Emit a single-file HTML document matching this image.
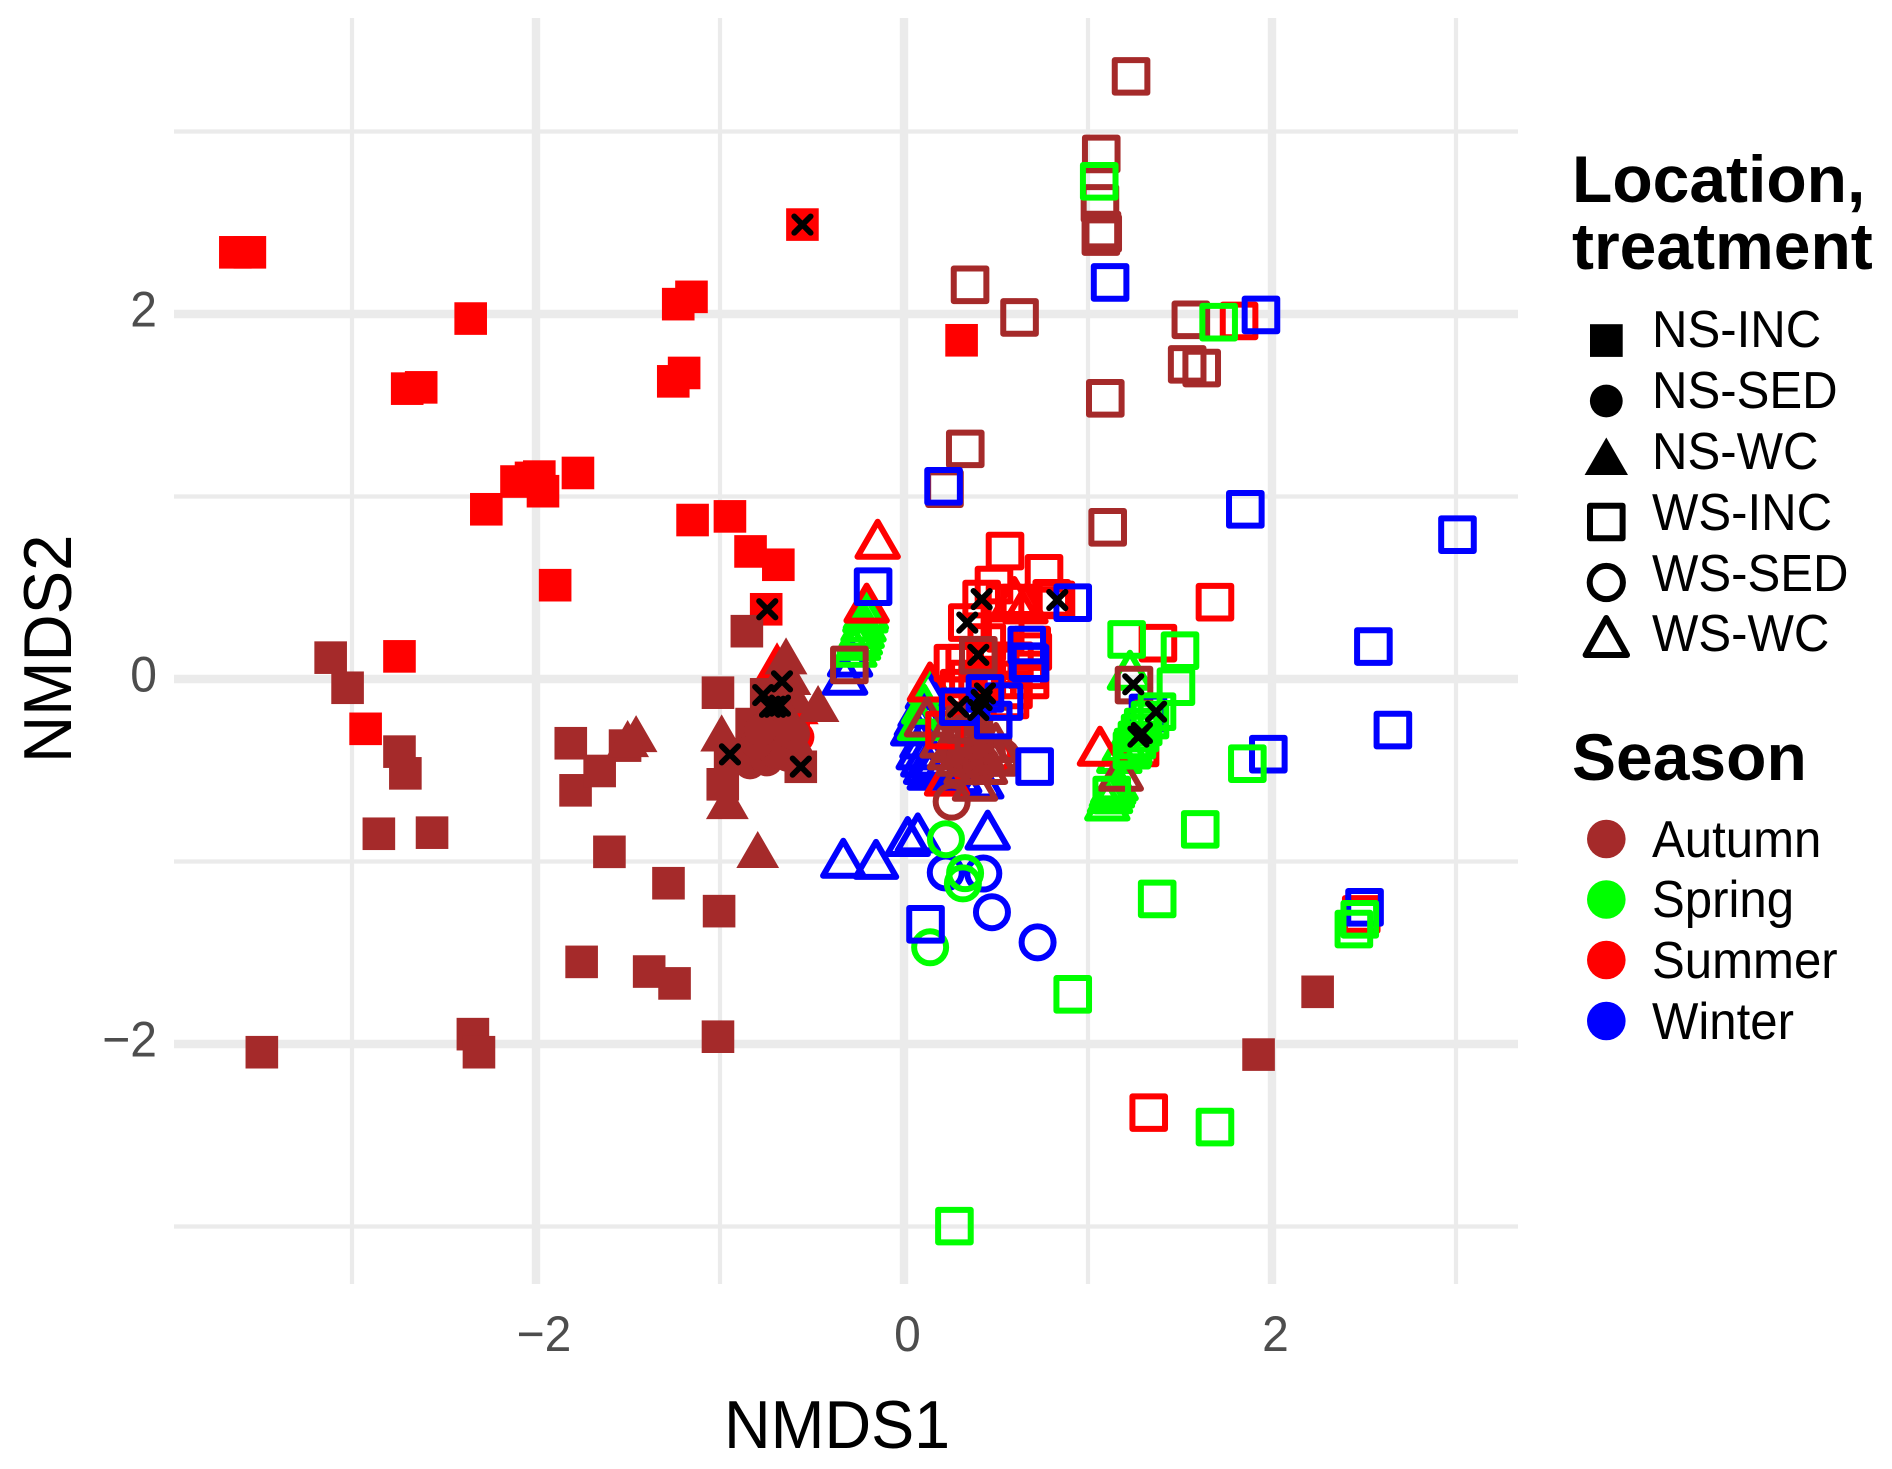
<!DOCTYPE html>
<html lang="en">
<head>
<meta charset="utf-8">
<title>NMDS ordination by location, treatment and season</title>
<style>
html,body{margin:0;padding:0;background:#fff;}
svg{display:block;font-family:"Liberation Sans",Arial,sans-serif;}
</style>
</head>
<body>
<svg id="chart" width="1892" height="1469" viewBox="0 0 1892 1469" xmlns="http://www.w3.org/2000/svg">
<rect width="1892" height="1469" fill="#fff"/>
<g id="grid"></g>
<g id="marks"></g>
<g id="ticks" fill="#4d4d4d" font-size="50"></g>

<text transform="translate(724,1448) scale(0.95,1)" font-size="68" fill="#000">NMDS1</text>
<text transform="translate(71,763) rotate(-90) scale(0.96,1)" font-size="68" fill="#000">NMDS2</text>

<g>
  <text x="1572" y="202" font-size="66" font-weight="bold" fill="#000">Location,</text>
  <text x="1572" y="269" font-size="66" font-weight="bold" fill="#000">treatment</text>

  <rect x="1590" y="324.2" width="32.7" height="32.7" fill="#000"/>
  <circle cx="1606.3" cy="401" r="16.4" fill="#000"/>
  <path d="M1606.3 437.5L1628 475L1584.6 475Z" fill="#000"/>
  <rect x="1590" y="505.7" width="32.6" height="32.6" fill="none" stroke="#000" stroke-width="6" stroke-linejoin="round"/>
  <circle cx="1606.3" cy="582.5" r="16.6" fill="none" stroke="#000" stroke-width="6"/>
  <path d="M1606.3 618L1627 655L1585.6 655Z" fill="none" stroke="#000" stroke-width="6" stroke-linejoin="round"/>

  <text transform="translate(1652,347) scale(0.945,1)" font-size="52" fill="#000">NS-INC</text>
  <text transform="translate(1652,408) scale(0.945,1)" font-size="52" fill="#000">NS-SED</text>
  <text transform="translate(1652,469) scale(0.945,1)" font-size="52" fill="#000">NS-WC</text>
  <text transform="translate(1652,530) scale(0.945,1)" font-size="52" fill="#000">WS-INC</text>
  <text transform="translate(1652,591) scale(0.945,1)" font-size="52" fill="#000">WS-SED</text>
  <text transform="translate(1652,651) scale(0.945,1)" font-size="52" fill="#000">WS-WC</text>
</g>

<g>
  <text x="1572" y="780" font-size="66" font-weight="bold" fill="#000">Season</text>
  <circle cx="1606.3" cy="839" r="19.3" fill="#a52a2a"/>
  <circle cx="1606.3" cy="899.5" r="19.3" fill="#00ff00"/>
  <circle cx="1606.3" cy="960" r="19.3" fill="#ff0000"/>
  <circle cx="1606.3" cy="1021" r="19.3" fill="#0000ff"/>
  <text transform="translate(1652,857) scale(0.945,1)" font-size="52" fill="#000">Autumn</text>
  <text transform="translate(1652,917) scale(0.945,1)" font-size="52" fill="#000">Spring</text>
  <text transform="translate(1652,978) scale(0.945,1)" font-size="52" fill="#000">Summer</text>
  <text transform="translate(1652,1039) scale(0.945,1)" font-size="52" fill="#000">Winter</text>
</g>
</svg>

<script>
// Axis ticks (NMDS units)
const majorTicks = [-2, 0, 2];
const minorTicks = [-3, -1, 1, 3];

// Series values as [NMDS1, NMDS2] pairs
const nsIncSummer = [[-3.634,2.338],[-3.555,2.338],[-2.355,1.975],[-2.70,1.591],[-2.624,1.598],[-1.227,2.054],[-1.155,2.094],[-1.254,1.631],[-1.195,1.677],[-0.552,2.49],[0.313,1.856],[-2.27,0.93],[-2.106,1.082],[-2.027,1.102],[-1.982,1.109],[-1.962,1.029],[-1.772,1.129],[-1.149,0.871],[-0.946,0.891],[-0.834,0.699],[-0.683,0.626],[-1.896,0.514],[-0.749,0.382],[-2.742,0.124],[-2.926,-0.273]];
const nsIncAutumn = [[-3.116,0.117],[-3.024,-0.048],[-2.742,-0.398],[-2.71,-0.517],[-2.854,-0.848],[-2.565,-0.842],[-1.811,-0.352],[-1.785,-0.61],[-1.654,-0.504],[-1.516,-0.365],[-1.601,-0.947],[-1.28,-1.119],[-1.005,-1.272],[-1.752,-1.55],[-1.385,-1.603],[-1.247,-1.668],[-1.011,-1.96],[-2.343,-1.946],[-2.31,-2.045],[-3.49,-2.045],[1.927,-2.058],[2.248,-1.714],[-1.011,-0.075],[-0.854,0.262],[-0.985,-0.577],[-0.945,-0.412],[-0.561,-0.481],[-0.749,-0.084],[-0.828,-0.247]];
const nsWcSummer = [[-0.69,0.066],[-0.58,-0.18]];
const nsSedSummer = [[-0.576,-0.318],[-0.60,-0.25]];
const nsWcAutumn = [[-0.795,-0.968],[-0.641,0.093],[-0.467,-0.168],[-0.991,-0.329],[-1.456,-0.333],[-1.502,-0.36],[-0.96,-0.70],[-0.62,-0.02],[-0.60,-0.12],[-0.65,-0.25],[-0.70,-0.35],[-0.60,-0.35],[-0.72,-0.2],[-0.72,-0.10],[-0.78,-0.28],[-0.68,-0.15]];
const nsSedAutumn = [[-0.837,-0.46],[-0.745,-0.444],[-0.70,-0.40],[-0.65,-0.35],[-0.63,-0.42],[-0.72,-0.30],[-0.60,-0.30],[-0.80,-0.35],[-0.72,-0.22],[-0.66,-0.26],[-0.78,-0.28]];

const wsWcWinter = [[-0.293,0.088],[-0.32,-0.011],[0.13,-0.09],[0.09,-0.19],[0.07,-0.24],[0.05,-0.289],[0.105,-0.46],[0.14,-0.532],[0.12,-0.50],[0.42,-0.58],[0.3,-0.55],[0.455,-0.86],[0.02,-0.895],[0.075,-0.875],[-0.33,-1.014],[-0.152,-1.02],[0.08,-0.42],[0.16,-0.47],[0.22,-0.5],[0.1,-0.36]];
const wsWcSpring = [[-0.207,0.345],[-0.22,0.28],[-0.23,0.245],[-0.24,0.208],[-0.27,0.142],[-0.21,0.33],[-0.25,0.18],[1.105,-0.70],[1.137,-0.61],[1.12,-0.66],[1.13,-0.63],[1.15,-0.59],[1.228,0.016],[1.2,-0.38],[1.17,-0.44],[0.087,-0.26],[0.15,-0.06],[0.11,-0.17]];
const wsWcSummer = [[-0.203,0.384],[-0.143,0.734],[0.141,-0.048],[0.234,-0.564],[1.065,-0.40],[0.6,0.42],[0.66,0.38]];
const wsWcAutumn = [[0.125,-0.24],[0.3,-0.455],[0.49,-0.455],[0.4,-0.455],[0.21,-0.356],[0.386,-0.592],[0.35,-0.35],[0.40,-0.30],[0.30,-0.30],[0.38,-0.40],[0.44,-0.38],[1.178,-0.537],[0.28,-0.38],[0.42,-0.42],[0.5,-0.38],[0.34,-0.5],[0.44,-0.5],[0.25,-0.42],[0.37,-0.45]];
const wsSedSummer = [[0.49,-0.42]];
const wsSedAutumn = [[0.259,-0.672],[0.531,-0.426],[0.386,-0.48],[0.45,-0.40],[0.33,-0.44],[0.36,-0.38],[0.30,-0.42],[0.42,-0.46],[0.38,-0.34]];
const wsSedWinter = [[0.227,-1.06],[0.431,-1.066],[0.478,-1.278],[0.726,-1.443]];
const wsSedSpring = [[0.228,-0.878],[0.332,-1.064],[0.32,-1.12],[0.142,-1.47]];

const wsIncSummer = [[0.549,0.701],[0.761,0.579],[0.489,0.515],[0.422,0.438],[0.344,0.309],[0.803,0.442],[0.826,0.433],[0.63,0.416],[0.549,0.416],[0.404,0.104],[0.266,0.087],[0.33,0.087],[0.694,0.186],[0.70,0.15],[1.69,0.421],[1.38,0.196],[1.33,-2.376],[0.22,-0.28],[0.595,-0.06],[0.685,-0.005],[0.667,0.05],[0.504,-0.005],[0.576,-0.115],[2.485,-1.29],[1.821,1.962],[1.283,-0.378],[0.45,0.2],[0.5,0.1],[0.55,0.25],[0.6,0.1],[0.45,0.0],[0.4,-0.02],[0.35,0.0],[0.3,-0.05]];
const wsIncAutumn = [[1.234,3.302],[1.072,2.877],[1.065,2.606],[1.08,2.442],[1.07,2.424],[1.076,2.46],[0.359,2.16],[0.628,1.981],[1.559,1.968],[1.539,1.724],[1.618,1.704],[1.094,1.538],[0.333,1.261],[0.22,1.043],[1.107,0.831],[-0.297,0.077],[1.25,-0.033],[0.404,0.13],[0.483,-0.247],[0.38,-0.3],[0.33,-0.25]];
const wsIncWinter = [[1.12,2.173],[1.94,1.995],[0.215,1.056],[1.855,0.93],[3.008,0.791],[-0.168,0.506],[0.917,0.418],[2.551,0.178],[2.657,-0.28],[1.98,-0.412],[0.71,-0.48],[0.117,-1.344],[2.503,-1.251],[0.295,-0.152],[0.44,-0.079],[0.543,-0.124],[0.485,-0.225],[0.685,0.087],[0.667,0.186],[0.674,0.095],[1.326,-0.186]];
const wsIncSpring = [[1.061,2.727],[1.71,1.955],[1.21,0.217],[1.5,0.155],[1.478,-0.042],[1.375,-0.179],[1.866,-0.464],[1.61,-0.824],[1.376,-1.205],[0.917,-1.728],[1.69,-2.455],[0.274,-2.998],[2.445,-1.37],[2.477,-1.317],[1.337,-0.225],[1.3,-0.263],[1.283,-0.296],[1.266,-0.334],[1.245,-0.373],[1.239,-0.39],[1.129,-0.636]];

// Samples flagged with a black cross
const crossPoints = [[-0.552,2.49],[-0.743,0.382],[-0.663,-0.013],[-0.765,-0.088],[-0.728,-0.152],[-0.701,-0.152],[-0.674,-0.146],[-0.946,-0.413],[-0.561,-0.48],[0.422,0.438],[0.344,0.309],[0.404,0.132],[0.833,0.433],[0.44,-0.079],[0.422,-0.115],[0.295,-0.152],[0.404,-0.17],[1.246,-0.029],[1.37,-0.179],[1.274,-0.316],[1.293,-0.296]];

// Axis functions
function xScale(v) { return 904 + 184 * v; }
function yScale(v) { return 679 - 182.5 * v; }

const NS = 'http://www.w3.org/2000/svg';
const gridGroup = document.getElementById('grid');
const marksGroup = document.getElementById('marks');
const ticksGroup = document.getElementById('ticks');

function drawGridLine(x1, y1, x2, y2, width) {
  const el = document.createElementNS(NS, 'line');
  el.setAttribute('x1', x1);
  el.setAttribute('y1', y1);
  el.setAttribute('x2', x2);
  el.setAttribute('y2', y2);
  el.setAttribute('stroke', '#ebebeb');
  el.setAttribute('stroke-width', width);
  
  
  gridGroup.appendChild(el);
}
minorTicks.forEach(function (t) {
  drawGridLine(174, yScale(t), 1518, yScale(t), 4.2);
  drawGridLine(xScale(t), 18, xScale(t), 1284, 4.2);
});
majorTicks.forEach(function (t) {
  drawGridLine(174, yScale(t), 1518, yScale(t), 8.4);
  drawGridLine(xScale(t), 18, xScale(t), 1284, 8.4);
});

function tickText(t) { return t < 0 ? '\u2212' + Math.abs(t) : String(t); }
majorTicks.forEach(function (t) {
  const xt = document.createElementNS(NS, 'text');
  xt.textContent = tickText(t);
  xt.setAttribute('text-anchor', 'middle');
  xt.setAttribute('transform', 'translate(' + (xScale(t) + (t < 0 ? 8 : 3.5)) + ',1351) scale(0.96,1)');
  
  
  ticksGroup.appendChild(xt);
  const yt = document.createElementNS(NS, 'text');
  yt.textContent = tickText(t);
  yt.setAttribute('text-anchor', 'end');
  yt.setAttribute('transform', 'translate(157,' + (yScale(t) + 12.5) + ') scale(0.96,1)');
  
  
  ticksGroup.appendChild(yt);
});

const BROWN = '#a52a2a', GREEN = '#00ff00', RED = '#ff0000', BLUE = '#0000ff';
const OPEN_STROKE = 6;

function drawMark(shape, color, x, y, name) {
  let el;
  const px = xScale(x), py = yScale(y);
  if (shape === 'fsq') {
    el = document.createElementNS(NS, 'rect');
    el.setAttribute('x', px - 16.3);
    el.setAttribute('y', py - 16.3);
    el.setAttribute('width', 32.6);
    el.setAttribute('height', 32.6);
    el.setAttribute('fill', color);
  } else if (shape === 'fci') {
    el = document.createElementNS(NS, 'circle');
    el.setAttribute('cx', px);
    el.setAttribute('cy', py);
    el.setAttribute('r', 16.4);
    el.setAttribute('fill', color);
  } else if (shape === 'ftr') {
    el = document.createElementNS(NS, 'path');
    el.setAttribute('d', 'M' + px + ' ' + (py - 24.7) + 'L' + (px + 21.4) + ' ' + (py + 12.4) + 'L' + (px - 21.4) + ' ' + (py + 12.4) + 'Z');
    el.setAttribute('fill', color);
  } else if (shape === 'osq') {
    el = document.createElementNS(NS, 'rect');
    el.setAttribute('x', px - 16.3);
    el.setAttribute('y', py - 16.3);
    el.setAttribute('width', 32.6);
    el.setAttribute('height', 32.6);
    el.setAttribute('fill', 'none');
    el.setAttribute('stroke', color);
    el.setAttribute('stroke-width', OPEN_STROKE);
    el.setAttribute('stroke-linejoin', 'round');
  } else if (shape === 'oci') {
    el = document.createElementNS(NS, 'circle');
    el.setAttribute('cx', px);
    el.setAttribute('cy', py);
    el.setAttribute('r', 16);
    el.setAttribute('fill', 'none');
    el.setAttribute('stroke', color);
    el.setAttribute('stroke-width', OPEN_STROKE);
  } else if (shape === 'otr') {
    el = document.createElementNS(NS, 'path');
    el.setAttribute('d', 'M' + px + ' ' + (py - 23.3) + 'L' + (px + 20.2) + ' ' + (py + 11.7) + 'L' + (px - 20.2) + ' ' + (py + 11.7) + 'Z');
    el.setAttribute('fill', 'none');
    el.setAttribute('stroke', color);
    el.setAttribute('stroke-width', OPEN_STROKE);
    el.setAttribute('stroke-linejoin', 'round');
  } else {
    el = document.createElementNS(NS, 'path');
    el.setAttribute('d', 'M' + (px - 8.2) + ' ' + (py - 8.2) + 'L' + (px + 8.2) + ' ' + (py + 8.2) + 'M' + (px + 8.2) + ' ' + (py - 8.2) + 'L' + (px - 8.2) + ' ' + (py + 8.2));
    el.setAttribute('fill', 'none');
    el.setAttribute('stroke', color);
    el.setAttribute('stroke-width', 5.8);
    el.setAttribute('stroke-linecap', 'round');
  }
  
  
  marksGroup.appendChild(el);
}

function drawSeries(points, shape, color, name) {
  points.forEach(function (p) { drawMark(shape, color, p[0], p[1], name); });
}

drawSeries(nsWcSummer, 'ftr', RED, 'point-ns-wc-summer');
drawSeries(nsSedSummer, 'fci', RED, 'point-ns-sed-summer');
drawSeries(nsIncSummer, 'fsq', RED, 'point-ns-inc-summer');
drawSeries(nsIncAutumn, 'fsq', BROWN, 'point-ns-inc-autumn');
drawSeries(nsWcAutumn, 'ftr', BROWN, 'point-ns-wc-autumn');
drawSeries(nsSedAutumn, 'fci', BROWN, 'point-ns-sed-autumn');
drawSeries(wsWcWinter, 'otr', BLUE, 'point-ws-wc-winter');
drawSeries(wsWcSpring, 'otr', GREEN, 'point-ws-wc-spring');
drawSeries(wsWcSummer, 'otr', RED, 'point-ws-wc-summer');
drawSeries(wsSedSummer, 'oci', RED, 'point-ws-sed-summer');
drawSeries(wsSedWinter, 'oci', BLUE, 'point-ws-sed-winter');
drawSeries(wsSedSpring, 'oci', GREEN, 'point-ws-sed-spring');
drawSeries(wsWcAutumn, 'otr', BROWN, 'point-ws-wc-autumn');
drawSeries(wsSedAutumn, 'oci', BROWN, 'point-ws-sed-autumn');
drawSeries(wsIncSummer, 'osq', RED, 'point-ws-inc-summer');
drawSeries(wsIncAutumn, 'osq', BROWN, 'point-ws-inc-autumn');
drawSeries(wsIncWinter, 'osq', BLUE, 'point-ws-inc-winter');
drawSeries(wsIncSpring, 'osq', GREEN, 'point-ws-inc-spring');
drawSeries(crossPoints, 'cross', '#000', 'cross-marker');
</script>
</body>
</html>
